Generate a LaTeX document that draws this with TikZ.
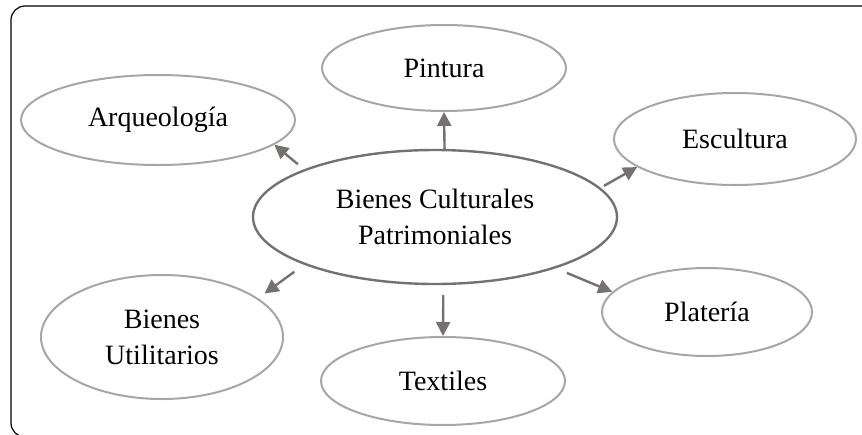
\documentclass[tikz,border=0pt]{standalone}
\usepackage{fontspec}
\setmainfont{Liberation Serif}
\usetikzlibrary{shapes.geometric,arrows.meta}

\definecolor{borde}{RGB}{166,166,166}
\definecolor{flecha}{RGB}{118,113,113}

\begin{document}
\begin{tikzpicture}[x=0.5pt, y=-0.5pt,
    hoja/.style={ellipse, draw=borde, line width=1pt, inner sep=0pt,
        align=center, font=\fontsize{14}{18}\selectfont},
    flechita/.style={draw=flecha, line width=1.2pt,
        -{Triangle[length=7pt,width=7pt]}, flecha}]
            \clip (0,0) rectangle (862,434);
            \draw[black, line width=0.6pt, rounded corners=7pt] (870,6) -- (11,6) -- (11,437) -- (60,437);

            \node[hoja, draw=flecha, line width=1.2pt, minimum width=182pt, minimum height=67pt] (centro) at (435,217) {Bienes Culturales\\Patrimoniales};

            \node[hoja, minimum width=122pt, minimum height=43pt] (pintura) at (444,68) {Pintura};
            \node[hoja, minimum width=137pt, minimum height=45pt] (arqueo) at (158,120) {Arqueología};
            \node[hoja, minimum width=121pt, minimum height=46pt] (escultura) at (735,139) {Escultura};
            \node[hoja, minimum width=121pt, minimum height=62pt] (utilit) at (162,337) {Bienes\\Utilitarios};
            \node[hoja, minimum width=122pt, minimum height=44pt] (textiles) at (443,381) {Textiles};
            \node[hoja, minimum width=105pt, minimum height=44pt] (plateria) at (707,312) {Platería};

            \draw[flechita] (centro.82) -- (pintura.south);
            \draw[flechita, shorten <=4pt] (centro.160) -- (arqueo.348);
            \draw[flechita, shorten <=2pt] (centro.10) -- (escultura.196);
            \draw[flechita, shorten <=6pt, shorten >=4pt] (centro.200) -- (utilit.22);
            \draw[flechita, shorten <=5pt] (centro.277) -- (textiles.north);
            \draw[flechita, shorten <=6pt] (centro.337) -- (plateria.168);
        \end{tikzpicture}
\end{document}
